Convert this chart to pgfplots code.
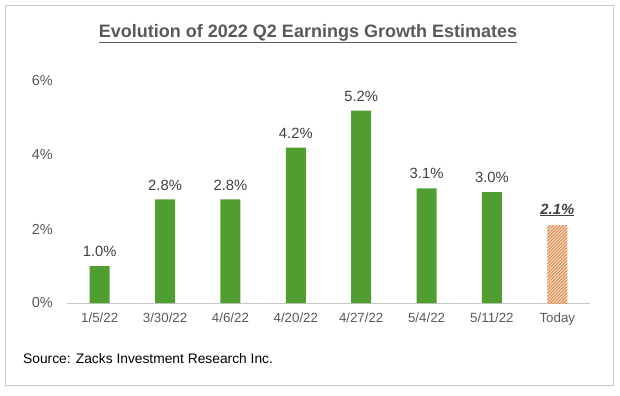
\documentclass[border=0pt]{standalone}
\usepackage{pgfplots}
\pgfplotsset{compat=1.18}
\usepackage{fontspec}
\setmainfont{Liberation Sans}
\usetikzlibrary{patterns.meta}
\definecolor{bargreen}{RGB}{80,158,47}
\definecolor{hatch}{RGB}{222,140,80}
\definecolor{hatchbg}{RGB}{246,222,200}
\definecolor{txtgray}{RGB}{89,89,89}
\definecolor{lblgray}{RGB}{64,64,64}
\definecolor{framegray}{RGB}{200,200,200}
\begin{document}
\begin{tikzpicture}[x=1bp,y=1bp]
\path (0,0) rectangle (620,395);
\draw[framegray, line width=0.8bp] (5,10) rectangle (613,390);
\node[anchor=base, text=txtgray, font=\fontsize{18bp}{20bp}\selectfont\bfseries, inner sep=0] at (308,358)
  {\underline{Evolution of 2022 Q2 Earnings Growth Estimates}};
\node[anchor=base west, text=black, font=\fontsize{13.8bp}{16bp}\selectfont, inner sep=0] at (23,32)
  {Source: Zacks Investment Research Inc.};
\begin{axis}[
  at={(67bp,92bp)}, anchor=south west,
  scale only axis, width=523bp, height=222bp,
  xmin=-0.5, xmax=7.5, ymin=0, ymax=6,
  axis x line*=bottom, axis y line*=left,
  x axis line style={draw=framegray, line width=0.8bp, -},
  y axis line style={draw=none},
  major tick length=0, tick style={draw=none},
  xtick={0,...,7},
  xticklabels={1/5/22,3/30/22,4/6/22,4/20/22,4/27/22,5/4/22,5/11/22,Today},
  ytick={0,2,4,6},
  yticklabels={0\%,2\%,4\%,6\%},
  xticklabel style={font=\fontsize{13.3bp}{15bp}\selectfont, text=txtgray, inner sep=0, anchor=north, yshift=-10bp},
  yticklabel style={font=\fontsize{14.5bp}{16bp}\selectfont, text=txtgray, inner sep=0, anchor=east, xshift=-14bp},
  ybar, bar width=20bp, bar shift=0pt,
  clip=false,
  nodes near coords,
  point meta=explicit symbolic,
  every node near coord/.append style={font=\fontsize{14.8bp}{16bp}\selectfont, text=lblgray, anchor=south, inner sep=2bp, yshift=7bp},
]
\addplot[fill=bargreen, draw=none] coordinates {
  (0,1.0) [1.0\%]
  (1,2.8) [2.8\%]
  (2,2.8) [2.8\%]
  (3,4.2) [4.2\%]
  (4,5.2) [5.2\%]
  (5,3.1) [3.1\%]
  (6,3.0) [3.0\%]
};
\addplot[draw=none, fill=hatchbg, postaction={pattern={Lines[angle=45, distance=2.3bp, line width=1bp]}, pattern color=hatch},
  every node near coord/.append style={font=\fontsize{14.8bp}{16bp}\selectfont\bfseries\itshape}]
  coordinates {
  (7,2.1) [\underline{2.1\%}]
};
\end{axis}
\end{tikzpicture}
\end{document}
